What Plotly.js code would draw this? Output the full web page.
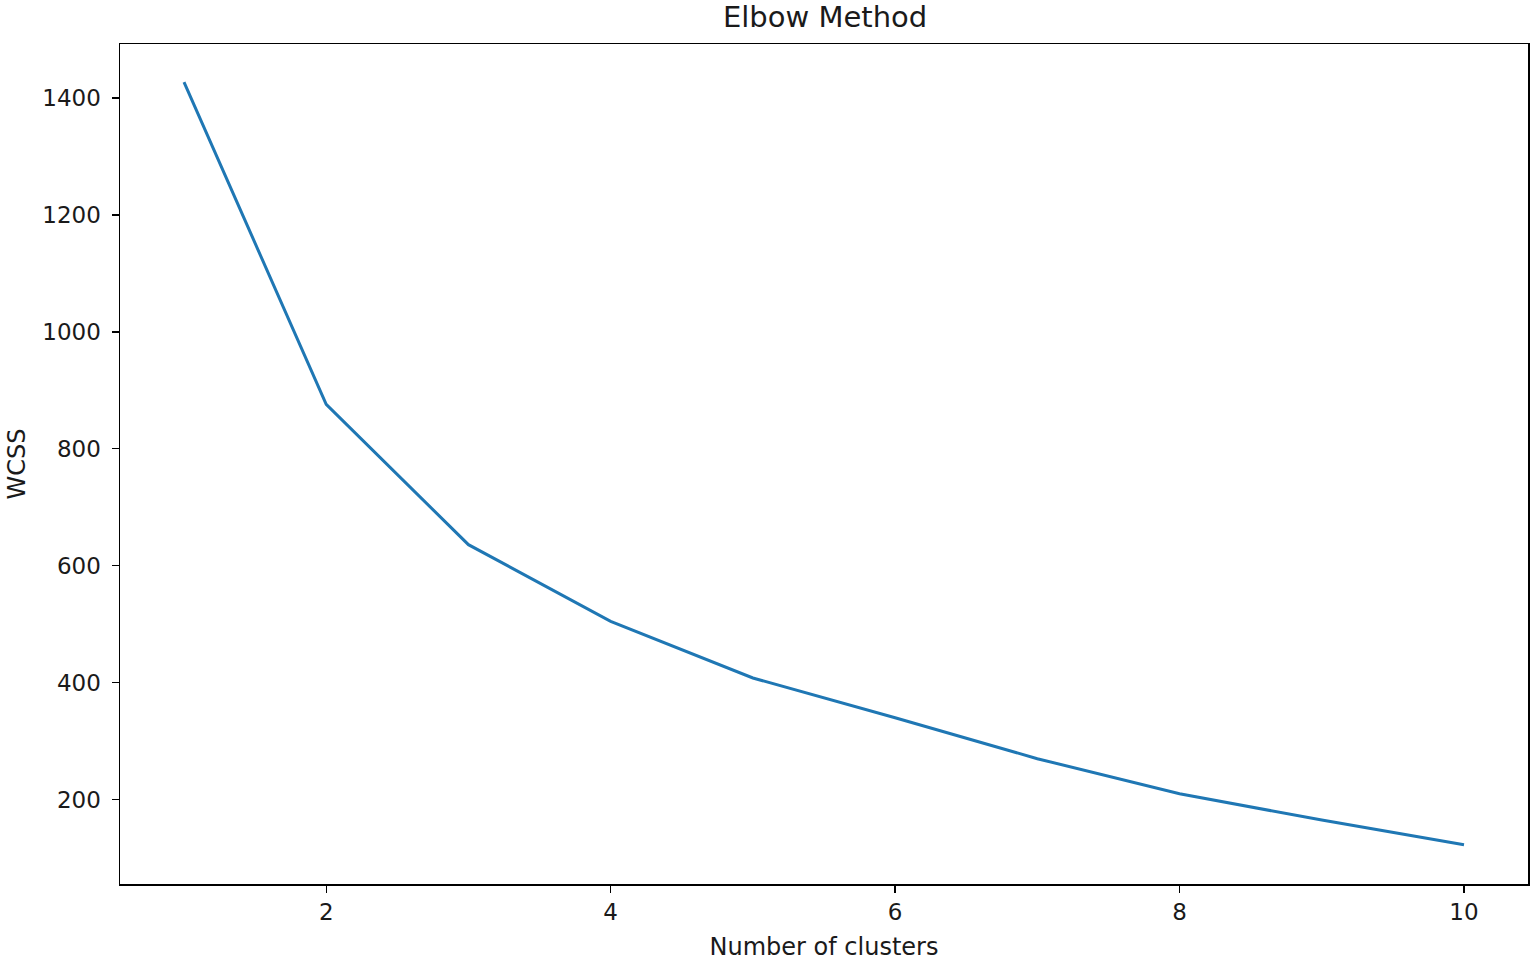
<!DOCTYPE html>
<html>
<head>
<meta charset="utf-8">
<script src="https://cdn.plot.ly/plotly-3.0.1.min.js"></script>
<style>html,body{margin:0;padding:0;background:#fff;}#chart{width:1535px;height:961px;}</style>
</head>
<body>
<div id="chart"></div>
<script>
const clusters = [1, 2, 3, 4, 5, 6, 7, 8, 9, 10];
const wcss = [1427, 876, 636, 505, 408, 340, 270, 210, 165, 123];
const xTicks = [2, 4, 6, 8, 10];
const yTicks = [200, 400, 600, 800, 1000, 1200, 1400];

const font = {family: 'DejaVu Sans', color: '#1a1a1a'};
const trace = {
  x: clusters, y: wcss, type: 'scatter', mode: 'lines',
  line: {color: '#1f77b4', width: 3}
};
const axisCommon = {
  showgrid: false, zeroline: false, showline: true, mirror: true,
  linecolor: '#000', linewidth: 1.5, ticks: 'outside', ticklen: 7,
  tickwidth: 1.3, tickcolor: '#000', tickfont: Object.assign({size: 23}, font)
};
const layout = {
  width: 1535, height: 961,
  margin: {l: 120, r: 7, t: 44, b: 77},
  paper_bgcolor: '#fff', plot_bgcolor: '#fff',
  showlegend: false,
  title: {text: 'Elbow Method', font: Object.assign({size: 29}, font), x: 0.5375, xanchor: 'center', y: 0.982, yanchor: 'middle'},
  xaxis: Object.assign({}, axisCommon, {
    range: [0.55, 10.45], tickvals: xTicks, ticktext: xTicks.map(String),
    title: {text: 'Number of clusters', font: Object.assign({size: 24}, font), standoff: 14}
  }),
  yaxis: Object.assign({}, axisCommon, {
    range: [55.7, 1492.3], tickvals: yTicks, ticktext: yTicks.map(String),
    ticklabelstandoff: 6,
    title: {text: 'WCSS', font: Object.assign({size: 24}, font), standoff: 10}
  })
};
Plotly.newPlot('chart', [trace], layout, {displayModeBar: false, staticPlot: true});
</script>
</body>
</html>
